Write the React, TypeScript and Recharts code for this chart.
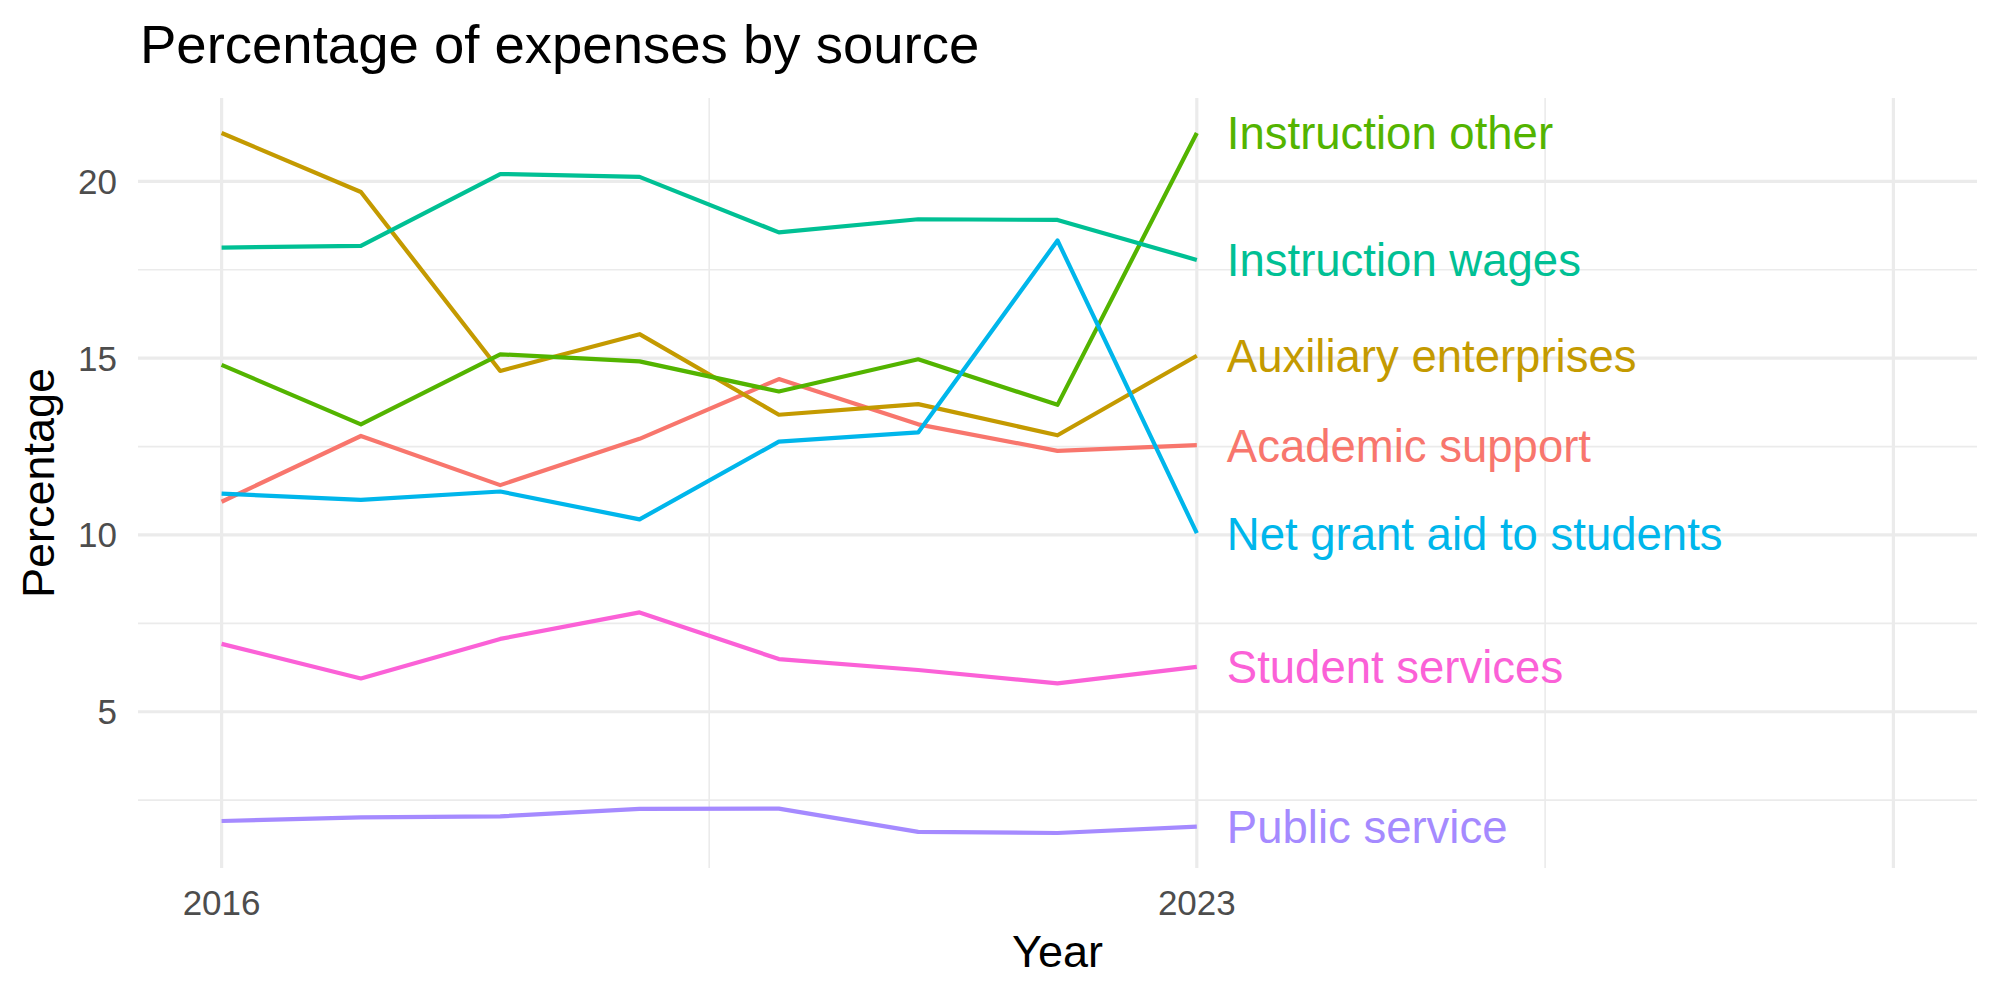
import React from "react";
import { LineChart, Line, XAxis, YAxis, CartesianGrid } from "recharts";

// Years on the horizontal axis
const years = [2016, 2017, 2018, 2019, 2020, 2021, 2022, 2023];

// Share of total expenses (%) by source
const academicSupport = [10.94, 12.8, 11.41, 12.72, 14.41, 13.13, 12.38, 12.54];
const auxiliaryEnterprises = [21.37, 19.7, 14.64, 15.68, 13.4, 13.7, 12.82, 15.07];
const instructionOther = [14.81, 13.13, 15.11, 14.91, 14.06, 14.97, 13.68, 21.37];
const instructionWages = [18.13, 18.18, 20.21, 20.13, 18.56, 18.93, 18.91, 17.78];
const netGrantAid = [11.17, 10.99, 11.23, 10.44, 12.64, 12.9, 18.33, 10.05];
const publicService = [1.91, 2.01, 2.04, 2.25, 2.26, 1.6, 1.57, 1.75];
const studentServices = [6.92, 5.94, 7.06, 7.81, 6.49, 6.18, 5.8, 6.27];

// Axis breaks
const xMajorBreaks = [2016, 2023, 2028];
const xMajorLabels = ["2016", "2023", ""];
const xMinorBreaks = [2019.5, 2025.5];
const yMajorBreaks = [5, 10, 15, 20];
const yMinorBreaks = [2.5, 7.5, 12.5, 17.5];

const series = [
  { key: "academic", name: "Academic support", values: academicSupport, color: "#F8766D" },
  { key: "auxiliary", name: "Auxiliary enterprises", values: auxiliaryEnterprises, color: "#C49A00" },
  { key: "instrOther", name: "Instruction other", values: instructionOther, color: "#53B400" },
  { key: "instrWages", name: "Instruction wages", values: instructionWages, color: "#00C094" },
  { key: "netGrant", name: "Net grant aid to students", values: netGrantAid, color: "#00B6EB" },
  { key: "public", name: "Public service", values: publicService, color: "#A58AFF" },
  { key: "student", name: "Student services", values: studentServices, color: "#FB61D7" },
];

const rows = years.map((year, i) => {
  const row: Record<string, number> = { year };
  series.forEach((s) => {
    row[s.key] = s.values[i];
  });
  return row;
});

// 5% expansion on both scales
const allValues = series.flatMap((s) => s.values);
const yMin = Math.min(...allValues);
const yMax = Math.max(...allValues);
const yPad = (yMax - yMin) * 0.05;
const yDomain = [yMin - yPad, yMax + yPad];
const xLimits = [2016, 2028];
const xPad = (xLimits[1] - xLimits[0]) * 0.05;
const xDomain = [xLimits[0] - xPad, xLimits[1] + xPad];

const FONT = '"Liberation Sans", Arial, Helvetica, sans-serif';
const GRID = "#EBEBEB";

const YTick = (props: any) => {
  const { x, y, payload } = props;
  return (
    <text x={x} y={y} dy="0.355em" textAnchor="end" fontSize={35} fill="#4D4D4D" fontFamily={FONT}>
      {payload.value}
    </text>
  );
};

const XTick = (props: any) => {
  const { x, y, payload } = props;
  const idx = xMajorBreaks.indexOf(payload.value);
  const label = idx >= 0 ? xMajorLabels[idx] : "";
  return (
    <text x={x} y={y} dy="0.71em" textAnchor="middle" fontSize={35} fill="#4D4D4D" fontFamily={FONT}>
      {label}
    </text>
  );
};

const makeEndLabel = (name: string, color: string) => (props: any) => {
  const { x, y, index } = props;
  if (index !== years.length - 1) return <g />;
  return (
    <text x={x + 30} y={y} dy="0.36em" fontSize={45.5} fill={color} fontFamily={FONT}>
      {name}
    </text>
  );
};

export default function App() {
  return (
    <div style={{ position: "absolute", left: 0, top: 0, width: 2000, height: 1000, background: "#fff" }}>
      <LineChart
        width={2000}
        height={1000}
        data={rows}
        margin={{ top: 98, right: 23, bottom: 0, left: 0 }}
      >
        <XAxis
          xAxisId="minor"
          dataKey="year"
          type="number"
          domain={xDomain}
          ticks={xMinorBreaks}
          allowDataOverflow
          hide
        />
        <YAxis
          yAxisId="minor"
          type="number"
          domain={yDomain}
          ticks={yMinorBreaks}
          allowDataOverflow
          hide
        />
        <CartesianGrid
          xAxisId="minor"
          yAxisId="minor"
          stroke={GRID}
          strokeWidth={1.6}
          syncWithTicks
        />
        <XAxis
          xAxisId="major"
          dataKey="year"
          type="number"
          domain={xDomain}
          ticks={xMajorBreaks}
          interval={0}
          allowDataOverflow
          axisLine={false}
          tickLine={false}
          tickSize={0}
          tickMargin={22}
          height={132}
          tick={<XTick />}
        />
        <YAxis
          yAxisId="major"
          type="number"
          domain={yDomain}
          ticks={yMajorBreaks}
          interval={0}
          allowDataOverflow
          axisLine={false}
          tickLine={false}
          tickSize={0}
          tickMargin={21}
          width={138}
          tick={<YTick />}
        />
        <CartesianGrid
          xAxisId="major"
          yAxisId="major"
          stroke={GRID}
          strokeWidth={3.2}
          syncWithTicks
        />
        {series.map((s) => (
          <Line
            key={s.key}
            xAxisId="major"
            yAxisId="major"
            type="linear"
            dataKey={s.key}
            stroke={s.color}
            strokeWidth={4.2}
            strokeLinejoin="round"
            dot={false}
            activeDot={false}
            isAnimationActive={false}
            label={makeEndLabel(s.name, s.color)}
          />
        ))}
      </LineChart>
      <svg
        width={2000}
        height={1000}
        style={{ position: "absolute", left: 0, top: 0, pointerEvents: "none" }}
      >
        <text x={140} y={62.5} fontSize={54.5} fill="#000" fontFamily={FONT}>
          Percentage of expenses by source
        </text>
        <text x={1057.5} y={966.5} fontSize={45} fill="#000" textAnchor="middle" fontFamily={FONT}>
          Year
        </text>
        <text
          x={53.5}
          y={483}
          fontSize={45}
          fill="#000"
          textAnchor="middle"
          fontFamily={FONT}
          transform="rotate(-90 53.5 483)"
        >
          Percentage
        </text>
      </svg>
    </div>
  );
}
